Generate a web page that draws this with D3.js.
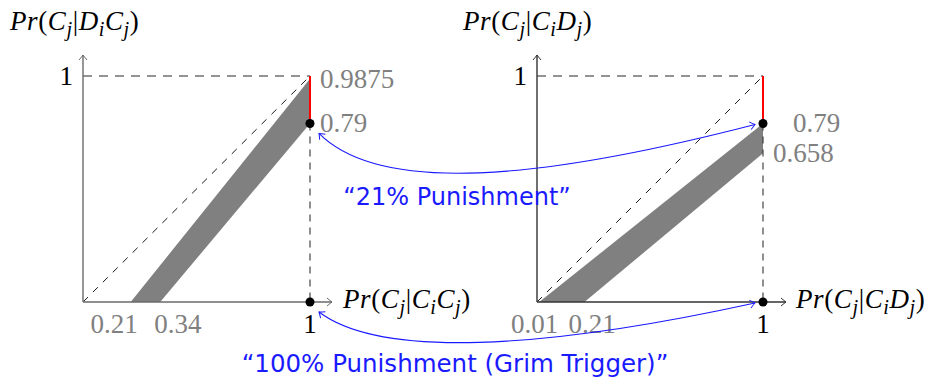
<!DOCTYPE html>
<html>
<head>
<meta charset="utf-8">
<script src="https://cdn.jsdelivr.net/npm/d3@7"></script>
<style>
  html, body { margin: 0; padding: 0; background: #fff; }
  svg { display: block; }
  .math { font-family: "Liberation Serif", "DejaVu Serif", serif; }
  .sans { font-family: "DejaVu Sans", "Open Sans", sans-serif; }
</style>
</head>
<body>
<svg id="chart" width="938" height="384"></svg>
<script>
// Cooperation regions for two conditional probabilities (band corners in data units)
const leftBand = [
  { x: 0.21, y: 0 },
  { x: 1, y: 0.9875 },
  { x: 1, y: 0.79 },
  { x: 0.34, y: 0 }
];
const rightBand = [
  { x: 0.01, y: 0 },
  { x: 1, y: 0.79 },
  { x: 1, y: 0.658 },
  { x: 0.21, y: 0 }
];
const leftValueLabels = ["0.9875", "0.79"];
const leftValues = [0.9875, 0.79];
const rightValueLabels = ["0.79", "0.658"];
const rightValues = [0.79, 0.658];
const leftTickLabels = ["0.21", "0.34"];
const leftTicks = [0.21, 0.34];
const rightTickLabels = ["0.01", "0.21"];
const rightTicks = [0.01, 0.21];
const punishLevel = 0.79;   // red segment runs from 1 down to this value
const annotations = ["\u201C21% Punishment\u201D", "\u201C100% Punishment (Grim Trigger)\u201D"];

const svg = d3.select("#chart");
const defs = svg.append("defs");

function arrowMarker(id, color) {
  defs.append("marker")
    .attr("id", id)
    .attr("viewBox", "-6 -5 8 10")
    .attr("refX", 0).attr("refY", 0)
    .attr("markerWidth", 8).attr("markerHeight", 10)
    .attr("markerUnits", "userSpaceOnUse")
    .attr("orient", "auto-start-reverse")
    .append("path")
    .attr("d", "M-5,-4 Q-1.5,-1 0,0 Q-1.5,1 -5,4")
    .attr("fill", "none")
    .attr("stroke", color)
    .attr("stroke-width", 1);
}
arrowMarker("arrGray", "#6a6a6a");
arrowMarker("arrDark", "#333");
arrowMarker("arrBlue", "#1a1aff");

const yScale = d3.scaleLinear().domain([0, 1]).range([302, 76]);
const xLeft = d3.scaleLinear().domain([0, 1]).range([83, 310]);
const xRight = d3.scaleLinear().domain([0, 1]).range([537, 763]);

const FS = 27;

// Math-style label: pieces [text, style]; "i" italic, "r" roman, "sub" italic subscript
function mathLabel(g, x, y, parts, size) {
  const t = g.append("text").attr("class", "math").attr("x", x).attr("y", y)
    .attr("font-size", size).attr("fill", "#000").attr("letter-spacing", 0.6);
  const shift = size * 0.24;
  let lowered = false;
  parts.forEach(([s, st]) => {
    const ts = t.append("tspan").text(s);
    if (st === "sub") {
      ts.attr("font-style", "italic").attr("font-size", size * 0.75);
      if (!lowered) { ts.attr("dy", shift); lowered = true; }
    } else {
      if (st === "i") ts.attr("font-style", "italic");
      if (lowered) { ts.attr("dy", -shift); lowered = false; }
    }
  });
  return t;
}

function panel(x, band, axisColor, marker, valueLabels, values, valueLabelX,
               tickLabels, ticks, tickShift, yTitle, xTitle) {
  const g = svg.append("g");
  const line = d3.line().x(d => x(d.x)).y(d => yScale(d.y));

  // band
  g.append("path").attr("d", line(band) + "Z").attr("fill", "#808080");

  // dashed guides
  g.append("path").attr("d", line([{ x: 0, y: 1 }, { x: 1, y: 1 }]))
    .attr("stroke", "#707070").attr("stroke-width", 1.5).attr("stroke-dasharray", "9,7").attr("fill", "none");
  g.append("path").attr("d", line([{ x: 0, y: 0 }, { x: 1, y: 1 }]))
    .attr("stroke", "#000").attr("stroke-width", 0.9).attr("stroke-dasharray", "7,7").attr("fill", "none");
  g.append("path").attr("d", line([{ x: 1, y: punishLevel }, { x: 1, y: 0 }]))
    .attr("stroke", "#333").attr("stroke-width", 1.1).attr("stroke-dasharray", "7,6").attr("fill", "none");

  // red segment
  g.append("path").attr("d", line([{ x: 1, y: 1 }, { x: 1, y: punishLevel }]))
    .attr("stroke", "#ff0000").attr("stroke-width", 2).attr("fill", "none");

  // axes
  g.append("line").attr("x1", x(0)).attr("y1", yScale(0)).attr("x2", x(0)).attr("y2", yScale(0) - 247)
    .attr("stroke", axisColor).attr("stroke-width", 1.4).attr("marker-end", `url(#${marker})`);
  g.append("line").attr("x1", x(0)).attr("y1", yScale(0)).attr("x2", x(0) + 249).attr("y2", yScale(0))
    .attr("stroke", axisColor).attr("stroke-width", 1.4).attr("marker-end", `url(#${marker})`);

  // points
  [{ x: 1, y: punishLevel }, { x: 1, y: 0 }].forEach(p => {
    g.append("circle").attr("cx", x(p.x)).attr("cy", yScale(p.y)).attr("r", 4.5).attr("fill", "#000");
  });

  // "1" labels
  g.append("text").attr("class", "math").attr("x", x(0) - 10).attr("y", yScale(1) + 9)
    .attr("text-anchor", "end").attr("font-size", FS).text("1");
  g.append("text").attr("class", "math").attr("x", x(1)).attr("y", yScale(0) + 31)
    .attr("text-anchor", "middle").attr("font-size", FS).text("1");

  // value labels at x = 1
  valueLabels.forEach((s, i) => {
    g.append("text").attr("class", "math").attr("x", valueLabelX[i]).attr("y", yScale(values[i]) + 9)
      .attr("font-size", FS).attr("fill", "#808080").text(s);
  });

  // tick labels along the x axis: first one ends left of its tick, second starts after
  tickLabels.forEach((s, i) => {
    g.append("text").attr("class", "math").attr("x", x(ticks[i]) + tickShift[i]).attr("y", yScale(0) + 31)
      .attr("text-anchor", i === 0 ? "end" : "start")
      .attr("font-size", FS).attr("fill", "#808080").text(s);
  });

  mathLabel(g, yTitle[0], yTitle[1], yTitle[2], FS);
  mathLabel(g, xTitle[0], xTitle[1], xTitle[2], FS);
  return g;
}

panel(xLeft, leftBand, "#6a6a6a", "arrGray", leftValueLabels, leftValues, [320, 320],
  leftTickLabels, leftTicks, [7, -6],
  [10, 30, [["Pr", "i"], ["(", "r"], ["C", "i"], ["j", "sub"], ["|", "r"], ["D", "i"], ["i", "sub"], ["C", "i"], ["j", "sub"], [")", "r"]]],
  [343, 308, [["Pr", "i"], ["(", "r"], ["C", "i"], ["j", "sub"], ["|", "r"], ["C", "i"], ["i", "sub"], ["C", "i"], ["j", "sub"], [")", "r"]]]);

panel(xRight, rightBand, "#333", "arrDark", rightValueLabels, rightValues, [793, 773],
  rightTickLabels, rightTicks, [19, -16],
  [463, 30, [["Pr", "i"], ["(", "r"], ["C", "i"], ["j", "sub"], ["|", "r"], ["C", "i"], ["i", "sub"], ["D", "i"], ["j", "sub"], [")", "r"]]],
  [796, 308, [["Pr", "i"], ["(", "r"], ["C", "i"], ["j", "sub"], ["|", "r"], ["C", "i"], ["i", "sub"], ["D", "i"], ["j", "sub"], [")", "r"]]]);

// blue connectors between matching points of the two panels
const blue = "#1a1aff";
function connector(y0, y1, c1, c2) {
  const p = d3.path();
  p.moveTo(xLeft(1) + 9, yScale(y0) + 10);
  p.bezierCurveTo(c1[0], c1[1], c2[0], c2[1], xRight(1) - 8, yScale(y1) + 1);
  svg.append("path").attr("d", p.toString()).attr("fill", "none").attr("stroke", blue)
    .attr("stroke-width", 1.1)
    .attr("marker-start", "url(#arrBlue)").attr("marker-end", "url(#arrBlue)");
}
connector(punishLevel, punishLevel, [380, 195], [540, 180]);
connector(0, 0, [380, 358], [540, 350]);

svg.append("text").attr("class", "sans").attr("x", 457).attr("y", 205)
  .attr("text-anchor", "middle").attr("font-size", 24).attr("fill", blue).text(annotations[0]);
svg.append("text").attr("class", "sans").attr("x", 455).attr("y", 372)
  .attr("text-anchor", "middle").attr("font-size", 24.5).attr("fill", blue).text(annotations[1]);
</script>
</body>
</html>
